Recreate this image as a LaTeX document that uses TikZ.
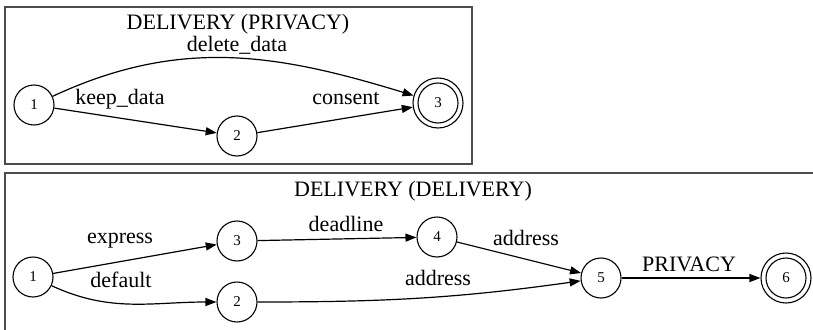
\documentclass[tikz,border=0pt]{standalone}
\usepackage{fontspec}
\setmainfont{Liberation Serif}
\usetikzlibrary{arrows.meta}

\begin{document}
\begin{tikzpicture}[
    x=1pt, y=-1pt,
    stnode/.style={circle, draw, line width=1.1pt, minimum size=40pt, inner sep=0pt, font=\fontsize{15}{15}\selectfont},
    accnode/.style={stnode, minimum size=50pt, path picture={\draw[line width=1.1pt] (path picture bounding box.center) circle (20pt);}},
    trans/.style={draw, line width=1.2pt, -{Triangle[length=11pt, width=8pt]}},
    lbl/.style={inner sep=0pt, font=\fontsize{22}{22}\selectfont},
    cluster/.style={draw=black!70, line width=1.3pt}
]
\useasboundingbox (0,0) rectangle (813,329);
\clip (0,0) rectangle (813,329);

% cluster boxes
\draw[cluster] (5,7) rectangle (472,164);
\draw[cluster] (5,173) rectangle (830,340);

% privacy automaton
\node[lbl] (ptitle) at (238,24) {DELIVERY (PRIVACY)};
\node[stnode] (p1) at (34,105) {1};
\node[stnode] (p2) at (237,136) {2};
\node[accnode] (p3) at (438,103) {3};

\draw[trans] (p1) to[out=25, in=163] (p3);
\draw[trans] (p1) -- (p2);
\draw[trans] (p2) -- (p3);

\node[lbl] (pdel) at (237,45) {delete\_data};
\node[lbl] (pkeep) at (120,99) {keep\_data};
\node[lbl] (pcons) at (346,98) {consent};

% delivery automaton
\node[lbl] (dtitle) at (413,191) {DELIVERY (DELIVERY)};
\node[stnode] (d1) at (33,277) {1};
\node[stnode] (d3) at (237,241) {3};
\node[stnode] (d2) at (237,302) {2};
\node[stnode] (d4) at (437,237) {4};
\node[stnode] (d5) at (601,278) {5};
\node[accnode] (d6) at (786,278) {6};

\draw[trans] (d1) -- (d3);
\draw[trans] (d1) to[out=-25, in=180] (d2);
\draw[trans] (d3) -- (d4);
\draw[trans] (d4) -- (d5);
\draw[trans] (d2) to[out=0, in=188] (d5);
\draw[trans] (d5) -- (d6);

\node[lbl] (dexp) at (120,241) {express};
\node[lbl] (ddef) at (121,280) {default};
\node[lbl] (ddead) at (346,224) {deadline};
\node[lbl] (daddr) at (526,238) {address};
\node[lbl] (daddrb) at (438,278) {address};
\node[lbl] (dpriv) at (689,264) {PRIVACY};
\end{tikzpicture}
\end{document}
